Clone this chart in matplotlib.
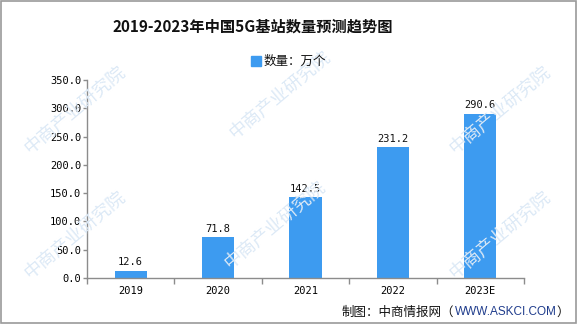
import matplotlib
matplotlib.use("Agg")
import matplotlib.pyplot as plt
from matplotlib.patches import Rectangle

plt.rcParams["font.family"] = ["Noto Sans CJK SC", "DejaVu Sans"]

years = ["2019", "2020", "2021", "2022", "2023E"]
counts = [12.6, 71.8, 142.5, 231.2, 290.6]
y_ticks = [0, 50, 100, 150, 200, 250, 300, 350]

BAR = "#3d9bf0"
AXIS = "#8c8c8c"
MARK = "#dce9f6"

fig = plt.figure(figsize=(5.85, 3.27), dpi=100)
W, H = 585, 327

# faint diagonal watermark tiles
marks = [(75, 110), (280, 95), (500, 110), (75, 235), (275, 225), (500, 235)]
for mx, my in marks:
    fig.text(mx / W, 1 - my / H, "中商产业研究院", fontsize=13, color=MARK,
             rotation=40, ha="center", va="center", zorder=0)

ax = fig.add_axes([87 / W, 49 / H, (524 - 87) / W, (278 - 80) / H])
ax.set_facecolor("none")
x = list(range(len(years)))
ax.bar(x, counts, width=0.37, color=BAR, zorder=2)
for xi, v in zip(x, counts):
    ax.text(xi, v + 6, f"{v:.1f}", ha="center", va="bottom",
            fontsize=7.5, family="DejaVu Sans Mono", color="#111111")

ax.set_xlim(-0.5, len(years) - 0.5)
ax.set_ylim(0, 350)
ax.set_yticks(y_ticks)
ax.set_yticklabels([f"{t:.1f}" for t in y_ticks], family="DejaVu Sans Mono", fontsize=7.5)
ax.set_xticks([i + 0.5 for i in range(-1, len(years))], minor=False)
ax.set_xticklabels([])
ax.set_xticks(x, minor=True)
ax.set_xticklabels(years, minor=True, family="DejaVu Sans Mono", fontsize=7.5)
ax.tick_params(axis="x", which="major", length=4, width=1, color=AXIS, direction="out")
ax.tick_params(axis="x", which="minor", length=0, pad=6)
ax.tick_params(axis="y", length=3, width=1, color=AXIS, pad=1)
for s in ("top", "right"):
    ax.spines[s].set_visible(False)
for s in ("left", "bottom"):
    ax.spines[s].set_color(AXIS)
    ax.spines[s].set_linewidth(1)

fig.text(253 / W, 1 - 27 / H, "2019-2023年中国5G基站数量预测趋势图",
         ha="center", va="center", fontsize=11, fontweight="bold", color="#111111")

fig.patches.append(Rectangle((251 / W, 1 - 66 / H), 10 / W, 10 / H,
                             transform=fig.transFigure, color=BAR))
fig.text(264 / W, 1 - 61 / H, "数量：万个", ha="left", va="center",
         fontsize=9, color="#111111")

# footer with the site name in blue
fig.canvas.draw()
r = fig.canvas.get_renderer()
t1 = fig.text(342 / W, 1 - 312 / H, "制图：中商情报网（", ha="left", va="center",
              fontsize=9, color="#111111")
x1 = t1.get_window_extent(r).x1
t2 = fig.text(x1 / W, 1 - 312 / H, "WWW.ASKCI.COM", ha="left", va="center",
              fontsize=8.5, family="Liberation Sans", color="#1f3c8c")
x2 = t2.get_window_extent(r).x1
fig.text(x2 / W, 1 - 312 / H, "）", ha="left", va="center", fontsize=9, color="#111111")

fig.patches.append(Rectangle((1 / W, 4 / H), 575 / W, 322 / H, transform=fig.transFigure,
                             fill=False, edgecolor="#9a9a9a", linewidth=1.2))

fig.savefig("out.png", dpi=100, facecolor="white")
